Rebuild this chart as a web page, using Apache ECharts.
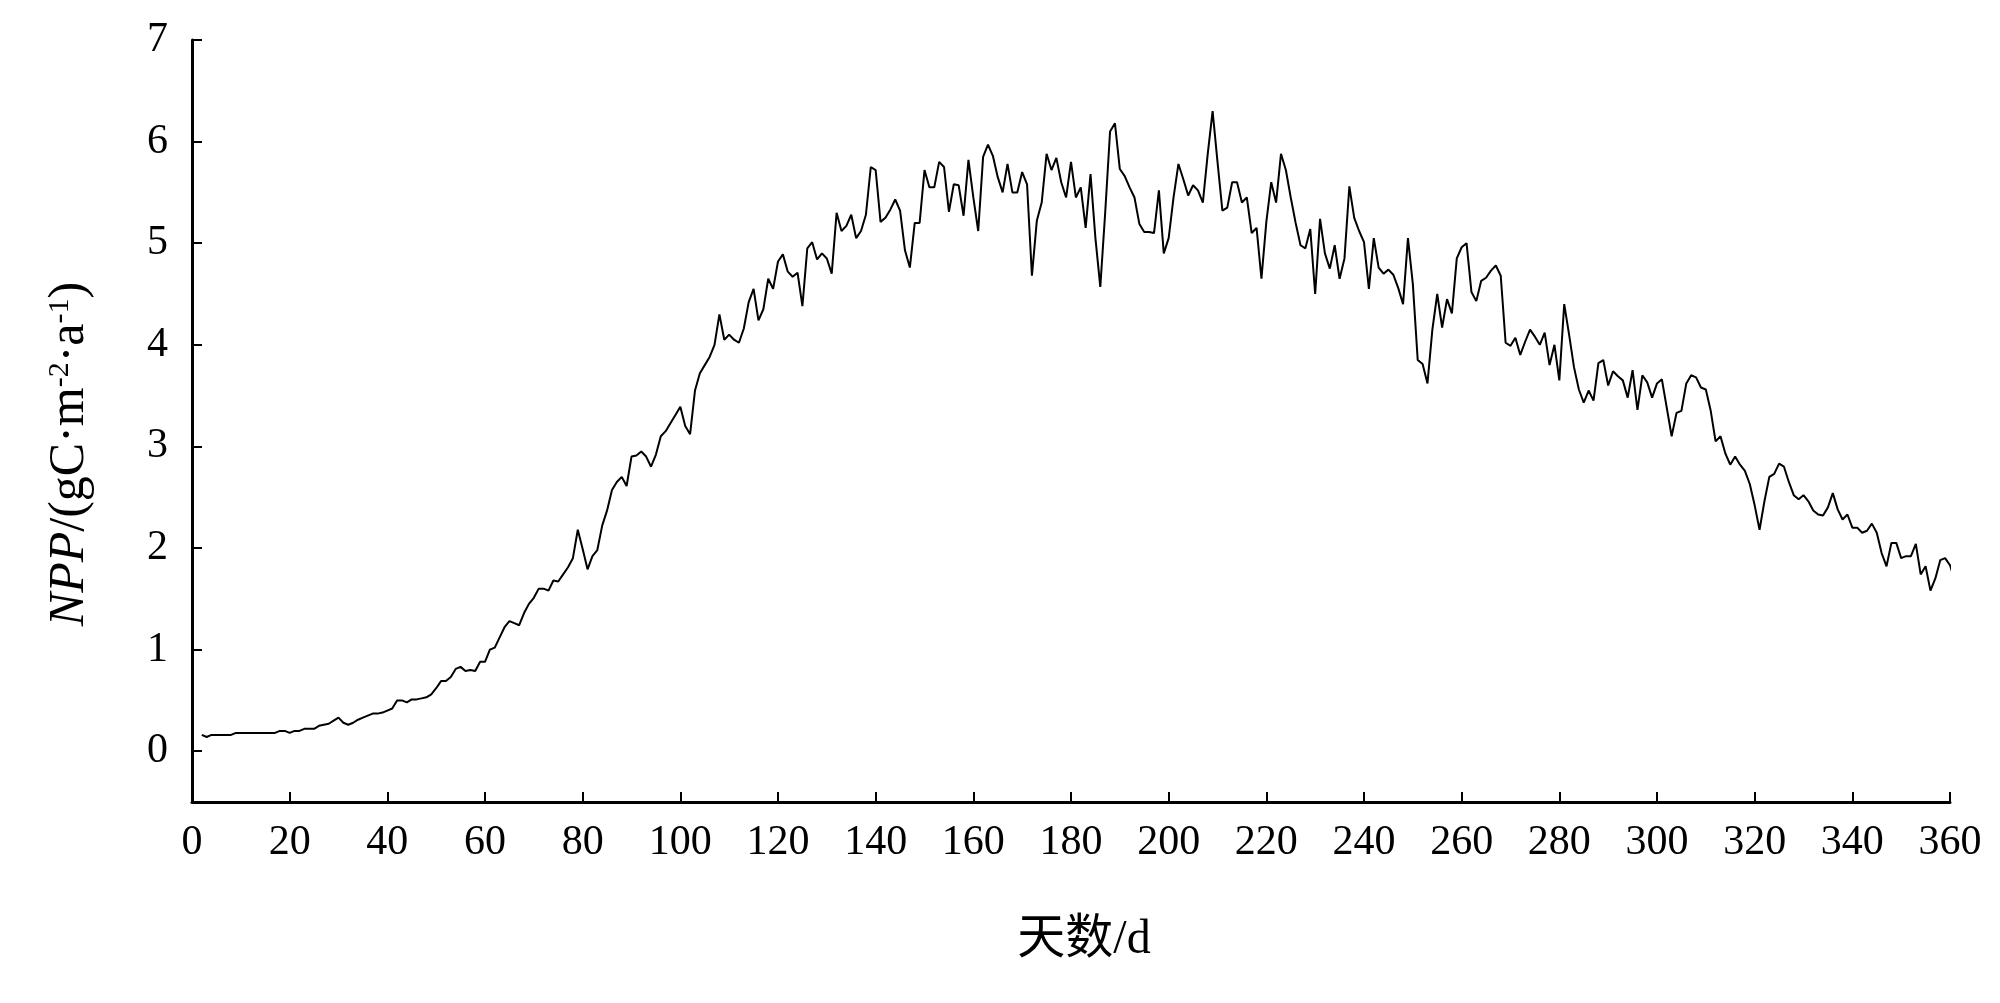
<!DOCTYPE html>
<html>
<head>
<meta charset="utf-8">
<script src="https://cdn.jsdelivr.net/npm/echarts@6/dist/echarts.min.js"></script>
<style>
html,body{margin:0;padding:0;background:#fff;}
#chart{width:2000px;height:1003px;}
</style>
</head>
<body>
<div id="chart"></div>
<script>
// first day of the daily series
const firstDay = 2;
// daily NPP values (days 2..361)
const npp = [
0.16,0.14,0.16,0.16,0.16,0.16,0.16,0.18,0.18,
0.18,0.18,0.18,0.18,0.18,0.18,0.18,0.20,0.20,0.18,
0.20,0.20,0.22,0.22,0.22,0.25,0.26,0.27,0.30,0.33,
0.28,0.26,0.28,0.31,0.33,0.35,0.37,0.37,0.38,0.40,
0.42,0.50,0.50,0.48,0.51,0.51,0.52,0.53,0.56,0.62,
0.69,0.69,0.73,0.81,0.83,0.79,0.80,0.79,0.88,0.88,
1.00,1.02,1.12,1.22,1.28,1.26,1.24,1.36,1.45,1.51,
1.60,1.60,1.58,1.68,1.67,1.74,1.81,1.90,2.18,1.99,
1.79,1.92,1.98,2.22,2.37,2.57,2.65,2.70,2.61,2.90,
2.91,2.95,2.90,2.80,2.92,3.10,3.15,3.23,3.31,3.39,
3.20,3.12,3.55,3.72,3.80,3.88,4.00,4.30,4.05,4.10,
4.05,4.02,4.16,4.42,4.55,4.24,4.35,4.65,4.55,4.82,
4.89,4.72,4.67,4.71,4.38,4.95,5.01,4.84,4.90,4.85,
4.70,5.30,5.12,5.17,5.28,5.05,5.12,5.28,5.75,5.72,
5.21,5.25,5.33,5.43,5.32,4.93,4.76,5.20,5.20,5.72,
5.55,5.55,5.80,5.75,5.31,5.58,5.57,5.27,5.82,5.45,
5.12,5.85,5.97,5.86,5.65,5.50,5.78,5.50,5.50,5.70,
5.58,4.68,5.22,5.40,5.88,5.72,5.84,5.60,5.45,5.80,
5.45,5.55,5.15,5.68,5.05,4.57,5.30,6.10,6.18,5.73,
5.66,5.55,5.45,5.19,5.11,5.11,5.10,5.52,4.90,5.05,
5.45,5.78,5.63,5.47,5.57,5.52,5.40,5.88,6.30,5.80,
5.32,5.35,5.60,5.60,5.40,5.45,5.10,5.15,4.65,5.21,
5.60,5.40,5.88,5.72,5.45,5.20,4.98,4.95,5.14,4.50,
5.24,4.90,4.75,4.98,4.65,4.85,5.56,5.25,5.12,5.01,
4.55,5.05,4.76,4.70,4.74,4.69,4.56,4.40,5.05,4.60,
3.85,3.81,3.62,4.15,4.50,4.17,4.45,4.31,4.85,4.96,
5.00,4.52,4.43,4.63,4.66,4.73,4.78,4.68,4.02,3.99,
4.07,3.90,4.03,4.15,4.08,4.00,4.12,3.80,4.00,3.65,
4.40,4.10,3.78,3.56,3.43,3.55,3.45,3.82,3.85,3.60,
3.74,3.69,3.65,3.48,3.75,3.36,3.70,3.63,3.48,3.62,
3.66,3.38,3.10,3.33,3.35,3.62,3.70,3.68,3.58,3.56,
3.35,3.05,3.10,2.93,2.82,2.90,2.82,2.76,2.63,2.42,
2.18,2.46,2.70,2.73,2.83,2.80,2.65,2.52,2.48,2.52,
2.46,2.37,2.33,2.32,2.40,2.54,2.38,2.28,2.33,2.20,
2.20,2.15,2.17,2.24,2.15,1.95,1.82,2.05,2.05,1.90,
1.92,1.92,2.04,1.74,1.82,1.58,1.70,1.88,1.90,1.83,1.68
];
// tick values
const xTicks = [0,20,40,60,80,100,120,140,160,180,200,220,240,260,280,300,320,340,360];
const yTicks = [0,1,2,3,4,5,6,7];
const xTitle = '天数/d';

const points = npp.map((v, i) => [firstDay + i, v]);
const serif = '"Liberation Serif", "Times New Roman", "Noto Sans CJK SC", serif';

const chart = echarts.init(document.getElementById('chart'), null, {renderer: 'canvas'});
chart.setOption({
  backgroundColor: '#ffffff',
  animation: false,
  grid: {left: 192, right: 50, top: 40, bottom: 201, containLabel: false},
  xAxis: {
    type: 'value',
    min: xTicks[0],
    max: xTicks[xTicks.length - 1],
    interval: 20,
    name: xTitle,
    nameLocation: 'middle',
    nameGap: 114,
    nameTextStyle: {fontFamily: serif, fontSize: 48, color: '#000', padding: [0, 0, 0, 26]},
    axisLine: {onZero: false, lineStyle: {color: '#000', width: 3}},
    axisTick: {inside: true, length: 10, lineStyle: {color: '#000', width: 2}, customValues: xTicks},
    axisLabel: {fontFamily: serif, fontSize: 42, color: '#000', margin: 20, customValues: xTicks},
    splitLine: {show: false}
  },
  yAxis: {
    type: 'value',
    min: -0.5,
    max: 7,
    name: '{i|NPP}/(gC·m{s|-2}·a{s|-1})',
    nameLocation: 'middle',
    nameRotate: 90,
    nameGap: 97,
    nameTextStyle: {
      fontFamily: serif, fontSize: 50, color: '#000', padding: [0, 66, 0, 0],
      rich: {
        i: {fontFamily: serif, fontSize: 50, fontStyle: 'italic', color: '#000'},
        s: {fontFamily: serif, fontSize: 30, color: '#000', verticalAlign: 'top'}
      }
    },
    axisLine: {show: true, lineStyle: {color: '#000', width: 3}},
    axisTick: {show: true, inside: true, length: 10, lineStyle: {color: '#000', width: 2}, customValues: yTicks},
    axisLabel: {fontFamily: serif, fontSize: 42, color: '#000', margin: 24, customValues: yTicks},
    splitLine: {show: false}
  },
  series: [{
    type: 'line',
    data: points,
    showSymbol: false,
    symbol: 'none',
    clip: false,
    lineStyle: {color: '#000', width: 2}
  }]
});
</script>
</body>
</html>
